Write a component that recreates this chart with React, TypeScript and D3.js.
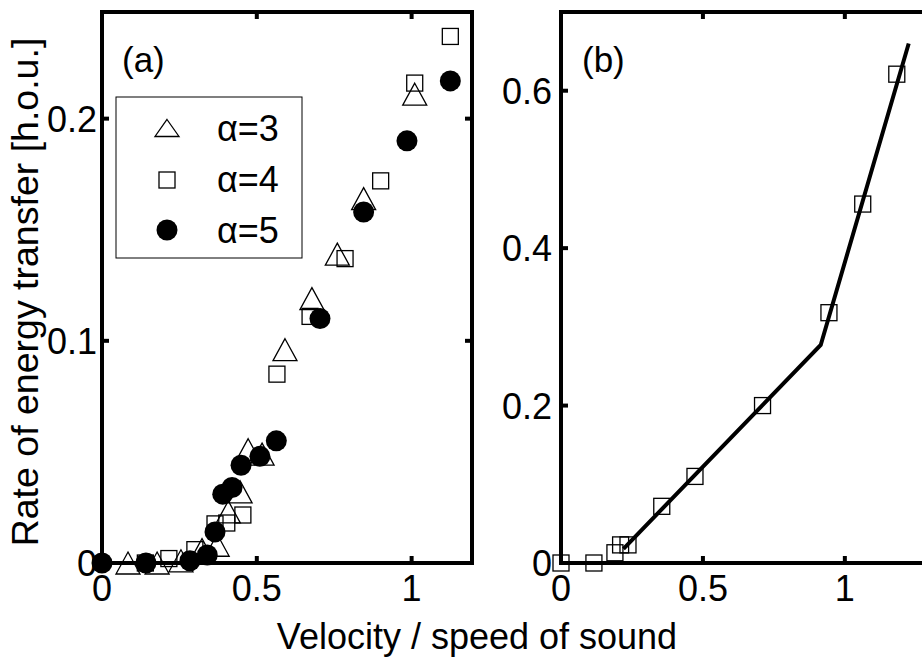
import * as d3 from 'd3';

// panel (a): rate of energy transfer for three alpha values
const alpha3: [number, number][] = [
  [0.084, 0], [0.178, 0], [0.255, 0.001], [0.323, 0.006], [0.372, 0.008],
  [0.408, 0.023], [0.446, 0.032], [0.472, 0.051], [0.517, 0.049], [0.591, 0.096],
  [0.678, 0.119], [0.76, 0.139], [0.845, 0.164], [1.01, 0.211],
];
const alpha4: [number, number][] = [
  [0.14, 0], [0.216, 0.002], [0.3, 0.006], [0.365, 0.0176], [0.403, 0.018],
  [0.455, 0.0216], [0.565, 0.085], [0.672, 0.111], [0.785, 0.137], [0.9, 0.172],
  [1.01, 0.216], [1.125, 0.237],
];
const alpha5: [number, number][] = [
  [0, 0], [0.142, 0], [0.284, 0.001], [0.34, 0.0036], [0.365, 0.014],
  [0.39, 0.031], [0.42, 0.034], [0.449, 0.044], [0.51, 0.048], [0.563, 0.055],
  [0.704, 0.11], [0.845, 0.158], [0.985, 0.19], [1.125, 0.217],
];

// panel (b): squares and fitted piecewise line
const squaresB: [number, number][] = [
  [0, 0], [0.116, 0], [0.19, 0.013], [0.21, 0.023], [0.236, 0.023],
  [0.355, 0.072], [0.472, 0.11], [0.71, 0.2], [0.944, 0.318], [1.063, 0.456],
  [1.183, 0.621],
];
const fitB: [number, number][] = [[0.22, 0.018], [0.915, 0.277], [1.225, 0.66]];

const xTicksA = [0, 0.5, 1];
const yTicksA = [0, 0.1, 0.2];
const xTicksB = [0, 0.5, 1];
const yTicksB = [0, 0.2, 0.4, 0.6];
const legendLabels = ['α=3', 'α=4', 'α=5'];

const FONT = '"Liberation Sans", Arial, Helvetica, sans-serif';
const AXW = 4;

const tri = (cx: number, cy: number, w = 24, h = 22) =>
  `M${cx},${cy - h / 2}L${cx + w / 2},${cy + h / 2}L${cx - w / 2},${cy + h / 2}Z`;

function Square({ x, y, s = 16 }: { x: number; y: number; s?: number }) {
  return <rect x={x - s / 2} y={y - s / 2} width={s} height={s} fill="none" stroke="#000" strokeWidth={1.3} />;
}

export default function App() {
  const xA = d3.scaleLinear().domain([0, 1.195]).range([102, 472]);
  const yA = d3.scaleLinear().domain([0, 0.248]).range([563, 12]);
  const xB = d3.scaleLinear().domain([0, 1.3]).range([561, 930]);
  const yB = d3.scaleLinear().domain([0, 0.7]).range([563, 12]);

  const line = d3.line<[number, number]>().x(d => xB(d[0])).y(d => yB(d[1]));
  const fmt = (v: number) => (v === 0 ? '0' : String(v));

  return (
    <svg width={922} height={661} style={{ position: 'absolute', left: 0, top: 0, background: '#fff' }}
      fontFamily={FONT}>
      <rect width={922} height={661} fill="#fff" />

      {/* ---------- panel (a) ---------- */}
      <g>
        <rect x={xA(0)} y={yA(0.248)} width={xA(1.195) - xA(0)} height={yA(0) - yA(0.248)}
          fill="none" stroke="#000" strokeWidth={AXW} />
        {xTicksA.map(t => (
          <g key={'xa' + t}>
            <line x1={xA(t)} x2={xA(t)} y1={yA(0)} y2={yA(0) - 7} stroke="#000" strokeWidth={AXW} />
            <line x1={xA(t)} x2={xA(t)} y1={yA(0.248)} y2={yA(0.248) + 7} stroke="#000" strokeWidth={AXW} />
            <text x={xA(t)} y={601} textAnchor="middle" fontSize={36}>{fmt(t)}</text>
          </g>
        ))}
        {yTicksA.map(t => (
          <g key={'ya' + t}>
            <line x1={xA(0)} x2={xA(0) + 7} y1={yA(t)} y2={yA(t)} stroke="#000" strokeWidth={AXW} />
            <line x1={xA(1.195)} x2={xA(1.195) - 7} y1={yA(t)} y2={yA(t)} stroke="#000" strokeWidth={AXW} />
            <text x={97} y={yA(t) + 13} textAnchor="end" fontSize={36}>{fmt(t)}</text>
          </g>
        ))}
        <text x={122} y={72} fontSize={35}>(a)</text>

        {alpha3.map((d, i) => (
          <path key={'t' + i} d={tri(xA(d[0]), yA(d[1]))} fill="none" stroke="#000" strokeWidth={1.3} />
        ))}
        {alpha4.map((d, i) => <Square key={'s' + i} x={xA(d[0])} y={yA(d[1])} />)}
        {alpha5.map((d, i) => <circle key={'c' + i} cx={xA(d[0])} cy={yA(d[1])} r={10.5} fill="#000" />)}

        {/* legend */}
        <rect x={116} y={97} width={186} height={161} fill="#fff" stroke="#000" strokeWidth={1} />
        <path d={tri(167, 128, 24, 17)} fill="none" stroke="#000" strokeWidth={1.3} />
        <Square x={167} y={180} s={16} />
        <circle cx={167} cy={230} r={10.5} fill="#000" />
        {legendLabels.map((l, i) => (
          <text key={l} x={217} y={141 + i * 51} fontSize={36}>{l}</text>
        ))}
      </g>

      {/* ---------- panel (b) ---------- */}
      <g>
        <line x1={xB(0)} x2={922} y1={yB(0)} y2={yB(0)} stroke="#000" strokeWidth={AXW} />
        <line x1={xB(0)} x2={922} y1={yB(0.7)} y2={yB(0.7)} stroke="#000" strokeWidth={AXW} />
        <line x1={xB(0)} x2={xB(0)} y1={yB(0) + 2} y2={yB(0.7) - 2} stroke="#000" strokeWidth={AXW} />
        {xTicksB.map(t => (
          <g key={'xb' + t}>
            <line x1={xB(t)} x2={xB(t)} y1={yB(0)} y2={yB(0) - 7} stroke="#000" strokeWidth={AXW} />
            <line x1={xB(t)} x2={xB(t)} y1={yB(0.7)} y2={yB(0.7) + 7} stroke="#000" strokeWidth={AXW} />
            <text x={xB(t)} y={601} textAnchor="middle" fontSize={36}>{fmt(t)}</text>
          </g>
        ))}
        {yTicksB.map(t => (
          <g key={'yb' + t}>
            <line x1={xB(0)} x2={xB(0) + 7} y1={yB(t)} y2={yB(t)} stroke="#000" strokeWidth={AXW} />
            <text x={552} y={yB(t) + 13} textAnchor="end" fontSize={36}>{fmt(t)}</text>
          </g>
        ))}
        <text x={582} y={72} fontSize={35}>(b)</text>

        {squaresB.map((d, i) => <Square key={'b' + i} x={xB(d[0])} y={yB(d[1])} />)}
        <path d={line(fitB) || ''} fill="none" stroke="#000" strokeWidth={4} />
      </g>

      {/* axis titles */}
      <text x={477} y={649} textAnchor="middle" fontSize={36}>Velocity / speed of sound</text>
      <text transform="translate(38,292) rotate(-90)" textAnchor="middle" fontSize={37.5}>
        Rate of energy transfer [h.o.u.]
      </text>
    </svg>
  );
}
